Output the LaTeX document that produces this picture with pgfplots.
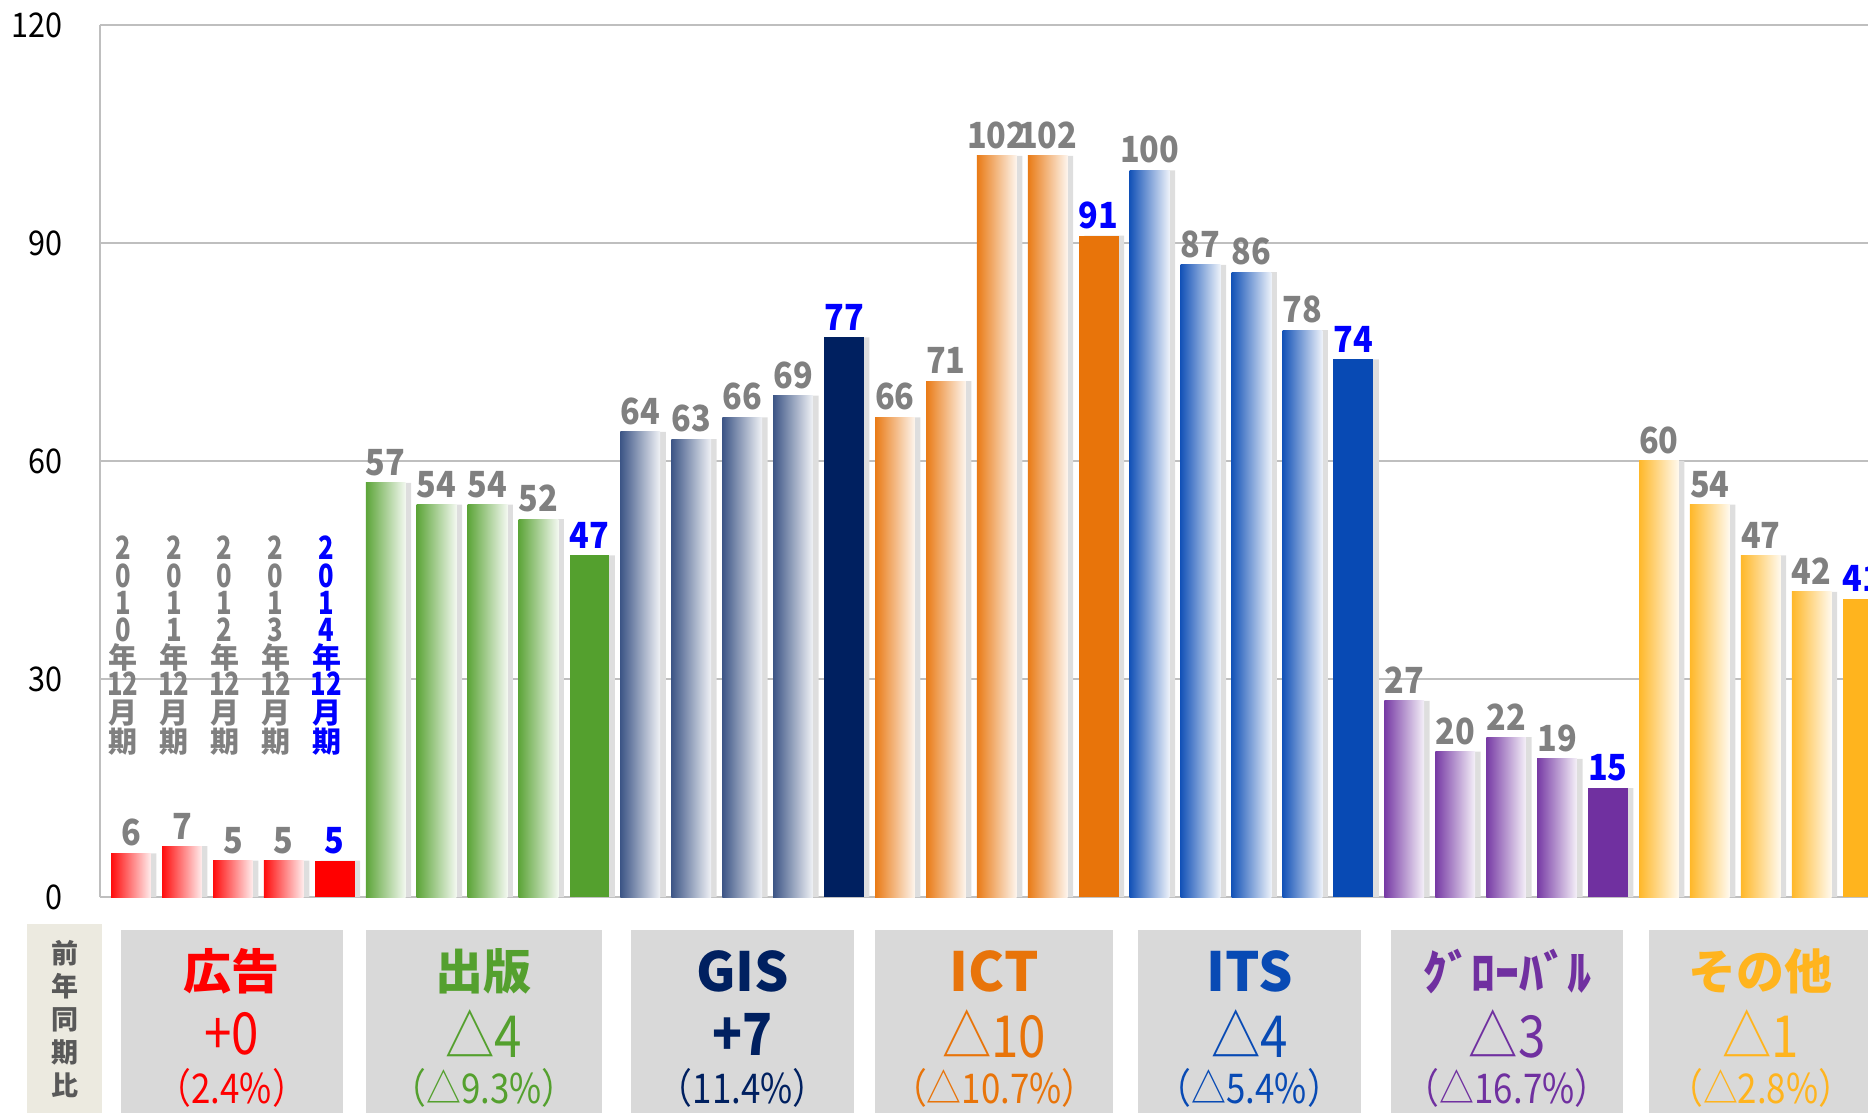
\documentclass[border=0pt]{standalone}
\usepackage{pgfplots}
\pgfplotsset{compat=1.18}
\usepackage{fontspec}
\setmainfont{Noto Sans CJK JP}
\newfontfamily\nf{Noto Sans CJK JP}[FakeStretch=0.85]
\newfontfamily\nfl{Noto Sans CJK JP}[FakeStretch=0.9]
\newfontfamily\nfc{Noto Sans CJK JP}[FakeStretch=0.8]

\definecolor{cRed}{RGB}{255,0,0}
\definecolor{cGreen}{RGB}{84,160,46}
\definecolor{cNavy}{RGB}{0,32,96}
\definecolor{cOrange}{RGB}{232,116,10}
\definecolor{cBlue}{RGB}{8,74,180}
\definecolor{cPurple}{RGB}{112,48,160}
\definecolor{cGold}{RGB}{255,180,30}
\definecolor{lblgray}{RGB}{128,128,128}
\definecolor{lblblue}{RGB}{0,0,255}
\definecolor{gridc}{RGB}{191,191,191}
\definecolor{boxc}{RGB}{217,217,217}
\definecolor{lboxc}{RGB}{236,234,224}
\definecolor{ltext}{RGB}{89,89,89}

\pgfplotsset{
  gbar/.style={ybar, bar shift=0pt, bar width=0.78, draw=none,
    left color=#1!95!white, right color=#1!7!white,
    nodes near coords,
    every node near coord/.append style={text=lblgray, font=\nfl\bfseries\fontsize{18}{18}\selectfont}},
  sbar/.style={ybar, bar shift=0pt, bar width=0.78, draw=none, fill=#1,
    nodes near coords,
    every node near coord/.append style={text=lblblue, font=\nfl\bfseries\fontsize{18}{18}\selectfont}},
}
\tikzset{
  yl/.style={anchor=north, inner sep=0pt, align=center, text=lblgray, font=\bfseries\fontsize{14.5}{13.6}\selectfont},
}
\newcommand\dg[1]{{\nfc\fontsize{16}{13.6}\selectfont #1}}

\begin{document}
\begin{tikzpicture}
\begin{axis}[
  at={(0pt,0pt)}, anchor=south west,
  scale only axis, width=884pt, height=436pt,
  xmin=-0.609, xmax=34.106, ymin=0, ymax=120,
  ytick={0,30,60,90,120}, xtick=\empty,
  ymajorgrids, grid style={gridc, line width=1pt},
  axis x line*=bottom, axis y line*=left,
  axis line style={gridc, line width=1pt},
  major tick length=0pt, tick style={draw=none},
  yticklabel style={font=\nfl\fontsize{17}{17}\selectfont, text=black, xshift=-15pt},
  /pgf/number format/assume math mode=true,
  clip=false,
]
% shadows
\addplot[ybar, bar shift=0.11, bar width=0.78, draw=none, fill=black!13, forget plot] coordinates {
(0,6)(1,7)(2,5)(3,5)(4,5)(5,57)(6,54)(7,54)(8,52)(9,47)(10,64)(11,63)(12,66)(13,69)(14,77)
(15,66)(16,71)(17,102)(18,102)(19,91)(20,100)(21,87)(22,86)(23,78)(24,74)
(25,27)(26,20)(27,22)(28,19)(29,15)(30,60)(31,54)(32,47)(33,42)(34,41)};
% advertising
\addplot[gbar=cRed] coordinates {(0,6)};
\addplot[gbar=cRed] coordinates {(1,7)};
\addplot[gbar=cRed] coordinates {(2,5)};
\addplot[gbar=cRed] coordinates {(3,5)};
\addplot[sbar=cRed] coordinates {(4,5)};
% publishing
\addplot[gbar=cGreen] coordinates {(5,57)};
\addplot[gbar=cGreen] coordinates {(6,54)};
\addplot[gbar=cGreen] coordinates {(7,54)};
\addplot[gbar=cGreen] coordinates {(8,52)};
\addplot[sbar=cGreen] coordinates {(9,47)};
% GIS
\addplot[gbar=cNavy!80!white] coordinates {(10,64)};
\addplot[gbar=cNavy!80!white] coordinates {(11,63)};
\addplot[gbar=cNavy!80!white] coordinates {(12,66)};
\addplot[gbar=cNavy!80!white] coordinates {(13,69)};
\addplot[sbar=cNavy] coordinates {(14,77)};
% ICT
\addplot[gbar=cOrange] coordinates {(15,66)};
\addplot[gbar=cOrange] coordinates {(16,71)};
\addplot[gbar=cOrange] coordinates {(17,102)};
\addplot[gbar=cOrange] coordinates {(18,102)};
\addplot[sbar=cOrange] coordinates {(19,91)};
% ITS
\addplot[gbar=cBlue] coordinates {(20,100)};
\addplot[gbar=cBlue] coordinates {(21,87)};
\addplot[gbar=cBlue] coordinates {(22,86)};
\addplot[gbar=cBlue] coordinates {(23,78)};
\addplot[sbar=cBlue] coordinates {(24,74)};
% global
\addplot[gbar=cPurple] coordinates {(25,27)};
\addplot[gbar=cPurple] coordinates {(26,20)};
\addplot[gbar=cPurple] coordinates {(27,22)};
\addplot[gbar=cPurple] coordinates {(28,19)};
\addplot[sbar=cPurple] coordinates {(29,15)};
% other
\addplot[gbar=cGold] coordinates {(30,60)};
\addplot[gbar=cGold] coordinates {(31,54)};
\addplot[gbar=cGold] coordinates {(32,47)};
\addplot[gbar=cGold] coordinates {(33,42)};
\addplot[sbar=cGold] coordinates {(34,41)};

% year labels
\node[yl] at (axis cs:-0.16,49.7) {\dg{2}\\\dg{0}\\\dg{1}\\\dg{0}\\年\\\dg{12}\\月\\期};
\node[yl] at (axis cs:0.84,49.7) {\dg{2}\\\dg{0}\\\dg{1}\\\dg{1}\\年\\\dg{12}\\月\\期};
\node[yl] at (axis cs:1.84,49.7) {\dg{2}\\\dg{0}\\\dg{1}\\\dg{2}\\年\\\dg{12}\\月\\期};
\node[yl] at (axis cs:2.84,49.7) {\dg{2}\\\dg{0}\\\dg{1}\\\dg{3}\\年\\\dg{12}\\月\\期};
\node[yl, text=lblblue]
  at (axis cs:3.84,49.7) {\dg{2}\\\dg{0}\\\dg{1}\\\dg{4}\\年\\\dg{12}\\月\\期};

% bottom panel
\fill[lboxc] (axis cs:-2.04,-3.72) rectangle (axis cs:-0.57,-45);
\node[align=center, text=ltext, font=\bfseries\fontsize{13.5}{16.5}\selectfont] at (axis cs:-1.30,-16.8) {前\\年\\同\\期\\比};

\fill[boxc] (axis cs:-0.20,-4.54) rectangle (axis cs:4.16,-45);
\fill[boxc] (axis cs:4.61,-4.54) rectangle (axis cs:9.25,-45);
\fill[boxc] (axis cs:9.82,-4.54) rectangle (axis cs:14.20,-45);
\fill[boxc] (axis cs:14.61,-4.54) rectangle (axis cs:19.28,-45);
\fill[boxc] (axis cs:19.77,-4.54) rectangle (axis cs:24.15,-45);
\fill[boxc] (axis cs:24.74,-4.54) rectangle (axis cs:29.30,-45);
\fill[boxc] (axis cs:29.81,-4.54) rectangle (axis cs:36,-45);
% titles
\node[text=cRed, font=\bfseries\fontsize{24}{24}\selectfont] at (axis cs:1.98,-10.2) {広告};
\node[text=cGreen, font=\bfseries\fontsize{24}{24}\selectfont] at (axis cs:6.93,-10.2) {出版};
\node[text=cNavy, font=\bfseries\fontsize{27}{27}\selectfont] at (axis cs:12.01,-10.2) {GIS};
\node[text=cOrange, font=\bfseries\fontsize{27}{27}\selectfont] at (axis cs:16.95,-10.2) {ICT};
\node[text=cBlue, font=\bfseries\fontsize{27}{27}\selectfont] at (axis cs:21.96,-10.2) {ITS};
\node[text=cPurple, font=\bfseries\fontsize{24}{24}\selectfont] at (axis cs:27.02,-10.2) {ｸﾞﾛｰﾊﾞﾙ};
\node[text=cGold, font=\bfseries\fontsize{24}{24}\selectfont] at (axis cs:32.0,-10.2) {その他};
% values
\node[text=cRed, font=\nf\fontsize{29}{29}\selectfont] at (axis cs:1.98,-18.85) {+0};
\node[text=cGreen, font=\nf\fontsize{29}{29}\selectfont] at (axis cs:6.93,-18.85) {△4};
\node[text=cNavy, font=\nf\bfseries\fontsize{29}{29}\selectfont] at (axis cs:12.01,-18.85) {+7};
\node[text=cOrange, font=\nf\fontsize{29}{29}\selectfont] at (axis cs:16.95,-18.85) {△10};
\node[text=cBlue, font=\nf\fontsize{29}{29}\selectfont] at (axis cs:21.96,-18.85) {△4};
\node[text=cPurple, font=\nf\fontsize{29}{29}\selectfont] at (axis cs:27.02,-18.85) {△3};
\node[text=cGold, font=\nf\fontsize{29}{29}\selectfont] at (axis cs:32.0,-18.85) {△1};
% percentages
\node[text=cRed, font=\nf\fontsize{20.5}{20.5}\selectfont] at (axis cs:1.98,-26.3) {（2.4\%）};
\node[text=cGreen, font=\nf\fontsize{20.5}{20.5}\selectfont] at (axis cs:6.93,-26.3) {（△9.3\%）};
\node[text=cNavy, font=\nf\fontsize{20.5}{20.5}\selectfont] at (axis cs:12.01,-26.3) {（11.4\%）};
\node[text=cOrange, font=\nf\fontsize{20.5}{20.5}\selectfont] at (axis cs:16.95,-26.3) {（△10.7\%）};
\node[text=cBlue, font=\nf\fontsize{20.5}{20.5}\selectfont] at (axis cs:21.96,-26.3) {（△5.4\%）};
\node[text=cPurple, font=\nf\fontsize{20.5}{20.5}\selectfont] at (axis cs:27.02,-26.3) {（△16.7\%）};
\node[text=cGold, font=\nf\fontsize{20.5}{20.5}\selectfont] at (axis cs:32.0,-26.3) {（△2.8\%）};
\end{axis}
\pgfresetboundingbox
\useasboundingbox (-50pt,-108pt) rectangle (884pt,448.5pt);
\end{tikzpicture}
\end{document}
